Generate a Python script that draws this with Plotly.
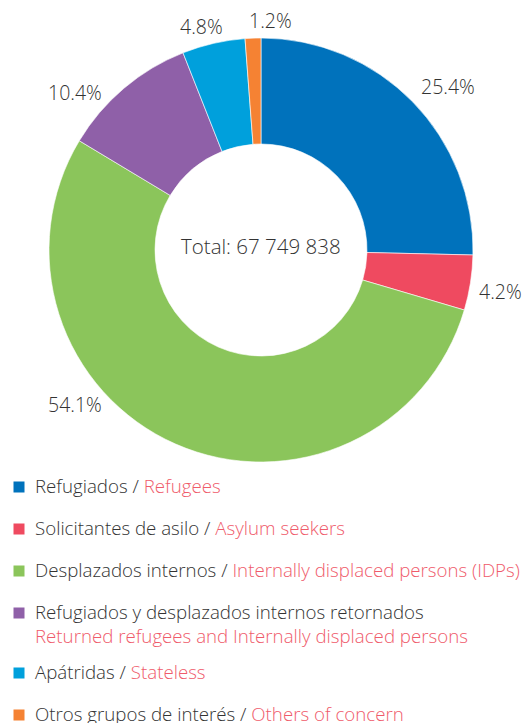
import plotly.graph_objects as go

# ---- data ----
labels_es = ["Refugiados", "Solicitantes de asilo", "Desplazados internos",
             "Refugiados y desplazados internos retornados", "Apátridas",
             "Otros grupos de interés"]
labels_en = ["Refugees", "Asylum seekers", "Internally displaced persons (IDPs)",
             "Returned refugees and Internally displaced persons", "Stateless",
             "Others of concern"]
percent_values = [25.4, 4.2, 54.1, 10.4, 4.8, 1.2]
total_label = "Total: 67 749 838"

# ---- styles / layout ----
colors = ["#0072BC", "#EF4A60", "#8BC55B", "#8F60A8", "#00A0DC", "#F58233"]
EN_COLOR = "#EF5B6B"
TXT = "#333333"
FONT = "Open Sans"
separators = [" / ", " / ", " / ", "<br>", " / ", " / "]
# label centres (pixel offsets from the pie centre)
label_offsets = [(187, -164), (239, 41), (-186, 154), (-186, -158), (-60, -223), (9, -230)]

W, H = 526, 723
cx, cy, R = 261, 250, 212

def px(x):
    return x / W

def py(y):
    return 1 - y / H

fig = go.Figure(go.Pie(
    labels=[f"{es} / {en}" for es, en in zip(labels_es, labels_en)],
    values=percent_values,
    textinfo="none",
    hole=0.5,
    sort=False,
    direction="clockwise",
    rotation=0,
    marker=dict(colors=colors, line=dict(color="white", width=0.6)),
    domain=dict(x=[px(cx - R), px(cx + R)], y=[py(cy + R), py(cy - R)]),
    hovertemplate="%{label}: %{value:.1f}%<extra></extra>",
    showlegend=False,
))

# percentage labels
for v, (dx, dy) in zip(percent_values, label_offsets):
    fig.add_annotation(
        text=f"{v:.1f}%", x=px(cx + dx), y=py(cy + dy), xref="paper", yref="paper",
        showarrow=False, xanchor="center", yanchor="middle",
        font=dict(size=19.5, color=TXT, family=FONT, weight=300),
    )

fig.add_annotation(
    text=total_label, x=px(cx), y=py(cy - 4), xref="paper", yref="paper",
    showarrow=False, font=dict(size=20.5, color=TXT, family=FONT, weight=300),
)

# legend (built from the category lists)
row_y0, row_gap, extra_line = 487, 42, 18
extra = 0
for i, (es, en, sep, c) in enumerate(zip(labels_es, labels_en, separators, colors)):
    y = row_y0 + row_gap * i + extra
    fig.add_annotation(
        text=" ", x=px(19), y=py(y), xref="paper", yref="paper", showarrow=False,
        xanchor="center", yanchor="middle", width=10, height=10, bgcolor=c,
        borderpad=0, font=dict(size=4),
    )
    fig.add_annotation(
        text=f"{es}{sep}<span style='color:{EN_COLOR}'>{en}</span>",
        x=px(33), y=py(y - 16), xref="paper", yref="paper", showarrow=False,
        xanchor="left", yanchor="top", align="left",
        font=dict(size=18.7, color=TXT, family=FONT, weight=300),
    )
    if sep == "<br>":
        extra += extra_line

fig.update_layout(
    width=W, height=H,
    margin=dict(l=0, r=0, t=0, b=0),
    paper_bgcolor="white",
    plot_bgcolor="white",
)

fig.write_html("out.html", config={"displayModeBar": False},
               post_script="document.body.style.margin='0';")
